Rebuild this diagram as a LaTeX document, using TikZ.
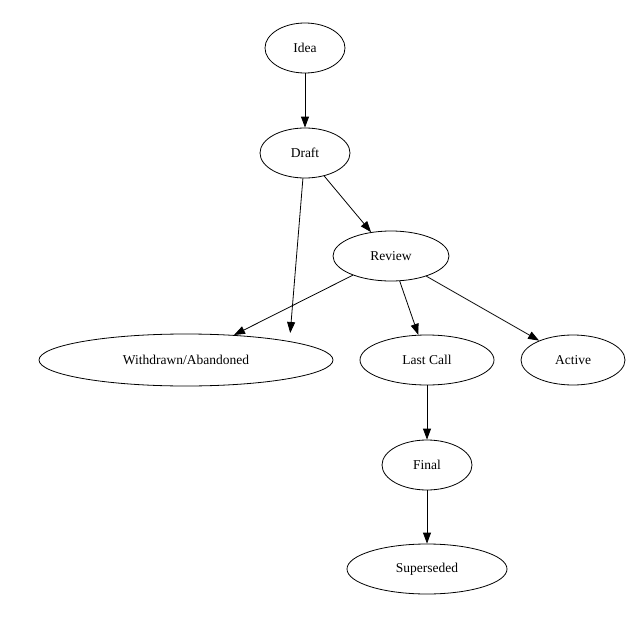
\documentclass[tikz,border=0pt]{standalone}
\usepackage{fontspec}
\setmainfont{Liberation Serif}
\usetikzlibrary{shapes.geometric,arrows.meta}
\begin{document}
\begin{tikzpicture}[x=1pt,y=-1pt,
  st/.style={ellipse,draw,line width=0.8pt,inner sep=0pt,font=\fontsize{13.5}{15}\selectfont},
  ar/.style={-{Triangle[length=11pt,width=8pt]},line width=0.8pt}]
\useasboundingbox (0,0) rectangle (640,618);
\node[st,minimum width=80pt,minimum height=50pt] (idea) at (305,48) {Idea};
\node[st,minimum width=90pt,minimum height=50pt] (draft) at (305,153) {Draft};
\node[st,minimum width=116pt,minimum height=50pt] (review) at (391,256) {Review};
\node[st,minimum width=294pt,minimum height=52pt] (wd) at (186,360) {Withdrawn/Abandoned};
\node[st,minimum width=134pt,minimum height=50pt] (lc) at (427,360) {Last Call};
\node[st,minimum width=104pt,minimum height=50pt] (act) at (573,360) {Active};
\node[st,minimum width=90pt,minimum height=50pt] (fin) at (427,465) {Final};
\node[st,minimum width=160pt,minimum height=50pt] (sup) at (427,569) {Superseded};
\draw[ar] (idea) -- (draft);
\draw[ar] (draft) -- (review);
\draw[ar] (draft) -- (wd.north east |- 0,333) ;
\draw[ar] (review) -- (234,335);
\draw[ar] (review) -- (lc);
\draw[ar] (review) -- (act);
\draw[ar] (lc) -- (fin);
\draw[ar] (fin) -- (sup);
\end{tikzpicture}
\end{document}
